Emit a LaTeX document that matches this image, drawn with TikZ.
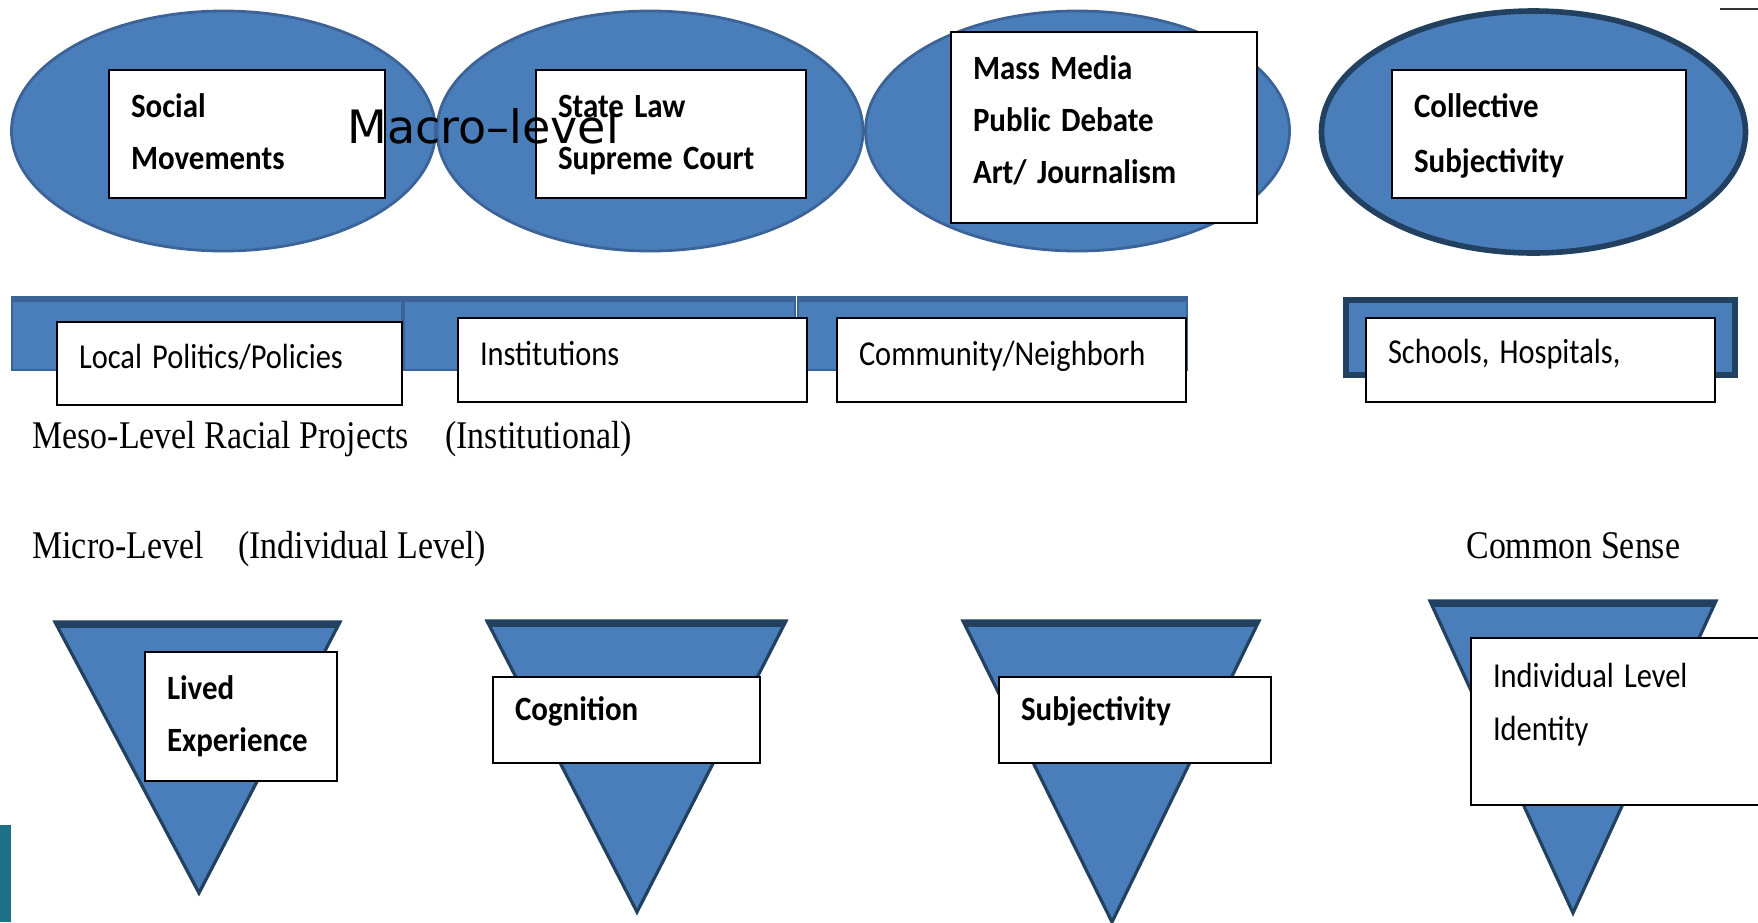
\documentclass[tikz,border=0pt]{standalone}
\usepackage{fontspec}
\usepackage{graphicx}
\setmainfont{Liberation Serif}
\newfontfamily\calfont{Carlito}
\newfontfamily\dejafont{DejaVu Sans}
\usetikzlibrary{shapes.geometric}

\definecolor{levelblue}{HTML}{4A7EBB}
\definecolor{rimblue}{HTML}{3C6397}
\definecolor{navyrim}{HTML}{22405F}
\definecolor{slideteal}{HTML}{1C7185}

\newcommand{\squeeze}[2]{\scalebox{#1}[1]{#2}}
\newcommand{\stackup}[1]{\begin{tabular}[t]{@{}l@{}}#1\end{tabular}}

\tikzset{
  oval/.style={ellipse, draw=rimblue, line width=1.4pt, fill=levelblue, minimum width=212pt, minimum height=120pt, inner sep=0pt},
  bar/.style={fill=levelblue, draw=rimblue, line width=1pt},
  cone/.style={fill=levelblue, draw=navyrim, line width=1.6pt, line join=miter},
  labelbox/.style n args={5}{draw=black, line width=1.4pt, fill=white, anchor=north west, outer sep=0pt, inner xsep=11pt, inner ysep=0pt, align=left, minimum width=#1pt, minimum height=#2pt, text width=#3pt, text height=#4pt, text depth=#5pt},
  boldbox/.style n args={5}{labelbox={#1}{#2}{#3}{#4}{#5}, font=\calfont\bfseries\fontsize{17}{26}\selectfont},
  plainbox/.style n args={5}{labelbox={#1}{#2}{#3}{#4}{#5}, font=\calfont\fontsize{17.5}{26.5}\selectfont},
  leveltext/.style={anchor=base west, inner sep=0pt, font=\fontsize{19.6}{24}\selectfont}
}

\begin{document}
\begin{tikzpicture}[x=0.5pt, y=-0.5pt]
\useasboundingbox (0,0) rectangle (1758,922);
\node[oval] (socialOval) at (223.5,131) {};
\node[oval, minimum width=213pt] (lawOval) at (650,131) {};
\node[oval] (mediaOval) at (1077.5,131) {};
\node[oval, draw=navyrim, line width=2.8pt, minimum height=121pt] (collectiveOval) at (1533.5,132) {};
\node[boldbox={138}{64}{116}{10}{27}] (socialBox) at (109,70) {\squeeze{0.91}{\stackup{Social\\Movements}}};
\node[boldbox={135}{64}{113}{10}{27}] (lawBox) at (536,70) {\squeeze{0.91}{\stackup{State Law\\Supreme Court}}};
\node[boldbox={153}{95.5}{131}{5}{53.5}] (mediaBox) at (951,32) {\squeeze{0.91}{\stackup{Mass Media\\Public Debate\\Art/ Journalism}}};
\node[boldbox={147}{64}{125}{10}{27}] (collectiveBox) at (1392,70) {\squeeze{0.91}{\stackup{Collective\\[1.5pt]Subjectivity}}};
\filldraw[bar] (12,297) rectangle (402,370);
\filldraw[bar] (404,297) rectangle (795,370);
\filldraw[bar] (798,297) rectangle (1187,370);
\draw[rimblue, line width=2.5pt] (12,299) -- (402,299);
\draw[rimblue, line width=2.5pt] (404,299) -- (795,299);
\draw[rimblue, line width=2.5pt] (798,299) -- (1187,299);
\filldraw[bar, draw=navyrim, line width=2.6pt] (1346,300) rectangle (1735,375);
\node[plainbox={172.5}{41.5}{150.5}{10}{5.5}] (politicsBox) at (57,322) {\squeeze{0.87}{Local Politics/Policies}};
\node[plainbox={174.5}{42}{152.5}{10}{5}] (institutionsBox) at (458,318) {\squeeze{0.87}{Institutions}};
\node[plainbox={174.5}{42}{152.5}{10}{5}] (communityBox) at (837,318) {\squeeze{0.87}{Community/Neighborh}};
\node[plainbox={174.5}{42}{152.5}{10}{7}] (schoolsBox) at (1366,318) {\squeeze{0.87}{Schools, Hospitals,}};
\filldraw[cone] (55,622) -- (340,622) -- (199,893) -- cycle;
\filldraw[cone] (487,621) -- (786,621) -- (637,912) -- cycle;
\filldraw[cone] (963,621) -- (1259,621) -- (1112,922) -- cycle;
\filldraw[cone] (1430,601) -- (1716,601) -- (1573,913) -- cycle;
\draw[navyrim, line width=3pt] (57,625) -- (338,625);
\draw[navyrim, line width=3pt] (489,624) -- (784,624);
\draw[navyrim, line width=3pt] (965,624) -- (1257,624);
\draw[navyrim, line width=3pt] (1432,604) -- (1714,604);
\node[boldbox={96}{64.5}{74}{10}{27.5}] (livedBox) at (145,652) {\squeeze{0.91}{\stackup{Lived\\Experience}}};
\node[boldbox={133.5}{43}{111.5}{10}{10}] (cognitionBox) at (493,677) {\squeeze{0.91}{Cognition}};
\node[boldbox={136}{43}{114}{10}{10}] (subjectivityBox) at (999,677) {\squeeze{0.91}{Subjectivity}};
\node[plainbox={149.5}{83.5}{127.5}{5}{39.5}] (identityBox) at (1471,638) {\squeeze{0.87}{\stackup{Individual Level\\Identity}}};
\fill[slideteal] (0,825) rectangle (11,922);
\draw[black!80, line width=0.6pt] (1720,9) -- (1758,9);
\node[anchor=base west, inner sep=0pt, font=\dejafont\fontsize{23}{28}\selectfont] (macroLabel) at (347,143) {Macro–level};
\node[leveltext] (mesoLabel) at (32,448) {\squeeze{0.865}{Meso-Level Racial Projects\hspace{21pt}(Institutional)}};
\node[leveltext] (microLabel) at (32,558) {\squeeze{0.865}{Micro-Level\hspace{20pt}(Individual Level)}};
\node[leveltext] (senseLabel) at (1466,558) {\squeeze{0.865}{Common Sense}};
\end{tikzpicture}
\end{document}
